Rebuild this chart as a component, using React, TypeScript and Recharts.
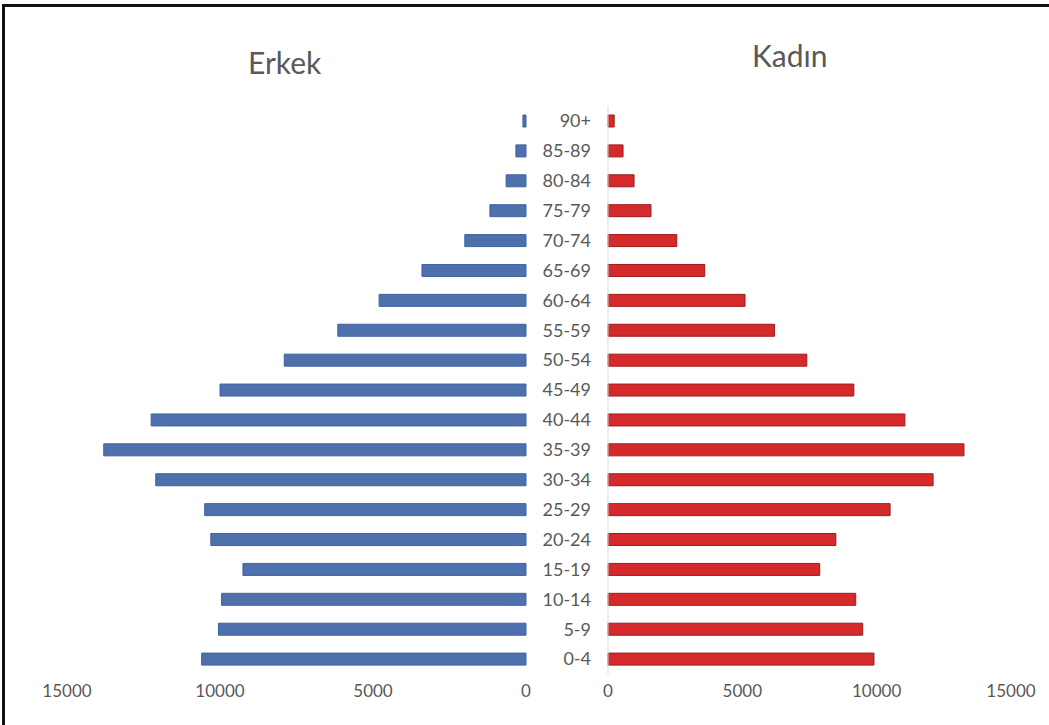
import { BarChart, Bar, XAxis, YAxis } from 'recharts';

const AGE_GROUPS = ['0-4', '5-9', '10-14', '15-19', '20-24', '25-29', '30-34', '35-39', '40-44', '45-49', '50-54', '55-59', '60-64', '65-69', '70-74', '75-79', '80-84', '85-89', '90+'];
const ERKEK = [10600, 10050, 9950, 9250, 10300, 10500, 12100, 13800, 12250, 10000, 7900, 6150, 4800, 3400, 2000, 1180, 650, 330, 100];
const KADIN = [9900, 9480, 9220, 7880, 8480, 10500, 12100, 13250, 11050, 9150, 7400, 6200, 5100, 3600, 2560, 1600, 970, 560, 230];
const X_TICKS = [0, 5000, 10000, 15000];

const FONT = 'Lato, "Open Sans", sans-serif';
const TEXT = '#595959';

const data = AGE_GROUPS.map((age, i) => ({ age, erkek: ERKEK[i], kadin: KADIN[i] }));

const tickStyle = { fill: TEXT, fontSize: 17, fontFamily: FONT };

export default function App() {
  return (
    <div style={{ position: 'absolute', left: 0, top: 0, width: 1049, height: 725, background: '#fff', overflow: 'hidden' }}>
      {/* frame */}
      <div style={{ position: 'absolute', left: 2, top: 4, width: 1100, height: 800, borderTop: '3px solid #111', borderLeft: '3px solid #111' }} />

      <div style={{ position: 'absolute', left: 248, top: 44, fontFamily: FONT, fontSize: 30, color: TEXT }}>Erkek</div>
      <div style={{ position: 'absolute', left: 752, top: 37, fontFamily: FONT, fontSize: 30, color: TEXT }}>Kadın</div>

      {/* Erkek */}
      <div style={{ position: 'absolute', left: 0, top: 0 }}>
        <BarChart width={540} height={725} data={data} layout="vertical" margin={{ top: 106, right: 14, bottom: 21, left: 67 }}>
          <XAxis type="number" domain={[0, 15000]} ticks={X_TICKS} reversed axisLine={false} tickLine={false} tick={tickStyle} tickMargin={5} interval={0} />
          <YAxis type="category" dataKey="age" reversed hide />
          <Bar dataKey="erkek" fill="#4e71ae" stroke="#41629c" strokeWidth={1} barSize={12} isAnimationActive={false} />
        </BarChart>
      </div>

      {/* Kadın */}
      <div style={{ position: 'absolute', left: 0, top: 0 }}>
        <BarChart width={1049} height={725} data={data} layout="vertical" margin={{ top: 106, right: 38, bottom: 21, left: 548 }}>
          <XAxis type="number" domain={[0, 15000]} ticks={X_TICKS} axisLine={false} tickLine={false} tick={tickStyle} tickMargin={5} interval={0} />
          <YAxis type="category" dataKey="age" reversed width={60} axisLine={{ stroke: '#d9d9d9' }} tickLine={false} tickMargin={11} interval={0} tick={{ fill: TEXT, fontSize: 18, fontFamily: FONT }} />
          <Bar dataKey="kadin" fill="#d42a2c" stroke="#9e1c1f" strokeWidth={1} barSize={12} isAnimationActive={false} />
        </BarChart>
      </div>
    </div>
  );
}
